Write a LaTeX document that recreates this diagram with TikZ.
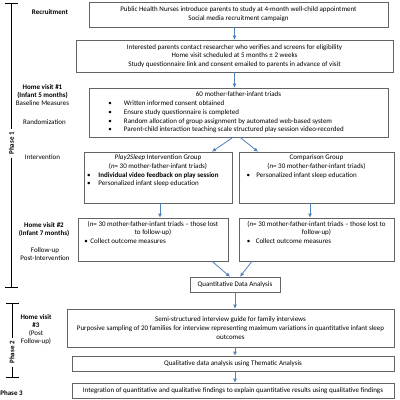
\documentclass[tikz,border=0pt]{standalone}
\usepackage{fontspec}
\setmainfont{Carlito}
\usetikzlibrary{arrows.meta,positioning,calc}
\definecolor{flowblue}{RGB}{79,129,189}
\definecolor{boxgray}{RGB}{100,100,100}
\newcommand{\bul}[2]{\par\noindent\hspace*{#1}\makebox[#2][l]{\textbullet}}

\begin{document}
\begin{tikzpicture}[
        x=1pt, y=-1pt,
        font=\fontsize{7}{8.7}\selectfont,
        box/.style={rectangle, draw=boxgray, line width=0.6pt, fill=white, inner sep=3pt, align=center},
        flow/.style={-{Latex[length=4pt,width=4pt]}, flowblue, line width=0.8pt},
        side/.style={align=center, font=\fontsize{7}{8}\selectfont},
        phase/.style={font=\fontsize{7}{8}\selectfont\bfseries, inner sep=3.5pt},
        phasebar/.style={line width=0.8pt}
    ]
        \useasboundingbox (0,0) rectangle (400,400);

        % flow boxes
        \node[box, minimum width=299pt, minimum height=25pt] (rec) at (238.5,14.5) {Public Health Nurses introduce parents to study at 4-month well-child appointment\\Social media recruitment campaign};
        \node[box, minimum width=317pt, minimum height=32pt] (screen) at (234.5,56) {Interested parents contact researcher who verifies and screens for eligibility\\Home visit scheduled at 5 months ± 2 weeks\\Study questionnaire link and consent emailed to parents in advance of visit};
        \node[box, minimum width=299pt, minimum height=49pt] (base) at (238.5,112.5) {\parbox{293pt}{\centering 60 mother-father-infant triads\par\raggedright
            \bul{16.5pt}{15.5pt}Written informed consent obtained
            \bul{16.5pt}{15.5pt}Ensure study questionnaire is completed
            \bul{16.5pt}{15.5pt}Random allocation of group assignment by automated web-based system
            \bul{16.5pt}{15.5pt}Parent-child interaction teaching scale structured play session video-recorded}};

        \node[box, minimum width=148pt, minimum height=51pt] (play) at (158,177.5) {\parbox[c][45pt][t]{142pt}{\centering \textit{Play2Sleep} Intervention Group\\(\textit{n}= 30 mother-father-infant triads)\par\raggedright
            \bul{0pt}{11.5pt}\textbf{Individual video feedback on play session}
            \bul{0pt}{11.5pt}Personalized infant sleep education}};
        \node[box, minimum width=155pt, minimum height=51pt] (comp) at (316.5,177.5) {\parbox[c][45pt][t]{149pt}{\centering Comparison Group\\(\textit{n}= 30 mother-father-infant triads)\par\raggedright
            \bul{4.5pt}{10pt}Personalized infant sleep education}};

        \node[box, minimum width=150pt, minimum height=43pt] (fup1) at (153,239.5) {\parbox[c][37pt][t]{144pt}{\centering (\textit{n}= 30 mother-father-infant triads -- those lost\\to follow-up)\par\raggedright
            \bul{3.5pt}{6pt}Collect outcome measures}};
        \node[box, minimum width=155pt, minimum height=43pt] (fup2) at (316.5,239.5) {\parbox[c][37pt][t]{149pt}{\centering (\textit{n}= 30 mother-father-infant triads -- those lost to\\follow-up)\par\raggedright
            \bul{4.8pt}{9pt}Collect outcome measures}};

        \node[box, minimum width=90pt, minimum height=15pt] (quant) at (235,284.5) {Quantitative Data Analysis};
        \node[box, minimum width=327pt, minimum height=38pt] (semi) at (230.5,328) {Semi-structured interview guide for family interviews\\Purposive sampling of 20 families for interview representing maximum variations in quantitative infant sleep\\outcomes};
        \node[box, minimum width=322pt, minimum height=15pt] (qual) at (233,363.5) {Qualitative data analysis using Thematic Analysis};
        \node[box, minimum width=322pt, minimum height=15pt] (integ) at (233,390.5) {Integration of quantitative and qualitative findings to explain quantitative results using qualitative findings};

        % connectors
        \draw[flow] (rec.south -| screen) -- (screen);
        \draw[flow] (screen.south) -- (screen.south |- base.north);
        \draw[flow] ([xshift=-5.5pt]base.south) -- ([xshift=54pt]play.north);
        \draw[flow] ([xshift=1.5pt]base.south) -- ([xshift=-58.5pt]comp.north);
        \draw[flow] ([xshift=2pt]play.south) -- ([xshift=2pt]play.south |- fup1.north);
        \draw[flow] ([xshift=-6.5pt]comp.south) -- ([xshift=-6.5pt]comp.south |- fup2.north);
        \draw[flow] ([xshift=59pt]fup1.south) -- ([xshift=-5pt]quant.north);
        \draw[flow] ([xshift=-64.5pt]fup2.south) -- ([xshift=5pt]quant.north);
        \draw[flow] (quant.south) -- (quant.south |- semi.north);
        \draw[flow] ([xshift=4.5pt]semi.south) -- ([xshift=4.5pt]semi.south |- qual.north);
        \draw[flow] ([xshift=2pt]qual.south) -- ([xshift=2pt]qual.south |- integ.north);

        % stage labels
        \node[side, font=\fontsize{7}{8}\selectfont\bfseries] (lrec) at (50,12) {Recruitment};
        \node[side] (lhv1) at (42.5,95) {\textbf{Home visit \#1}\\\textbf{(Infant 5 months)}\\Baseline Measures};
        \node[side] (lrand) at (44.5,122) {Randomization};
        \node[side] (lint) at (42.5,157) {Intervention};
        \node[side] (lhv2) at (44,230) {\textbf{Home visit \#2}\\\textbf{(Infant 7 months)}};
        \node[side] (lfup) at (45,254) {Follow-up\\Post-Intervention};
        \node[side] (lhv3) at (36,329.5) {\textbf{Home visit}\\\textbf{\#3}\\(Post\\Follow-up)};

        % phases
        \node[phase, rotate=90] (ph1) at (11.5,143.5) {Phase 1};
        \node[phase, rotate=90] (ph2) at (12,352.5) {Phase 2};
        \node[phase] (ph3) at (11.5,393) {Phase 3};
        \coordinate (ph1top) at (11.5,3);
        \coordinate (ph1bot) at (11.5,288);
        \coordinate (ph2top) at (12,303);
        \coordinate (ph2bot) at (12,378);
        \draw[phasebar, {Bar[width=13pt]}-] (ph1top) -- (ph1.east);
        \draw[phasebar, -{Bar[width=13pt]}] (ph1.west) -- (ph1bot);
        \draw[phasebar, {Bar[width=13pt]}-] (ph2top) -- (ph2.east);
        \draw[phasebar, -{Bar[width=13pt]}] (ph2.west) -- (ph2bot);
    \end{tikzpicture}
\end{document}
